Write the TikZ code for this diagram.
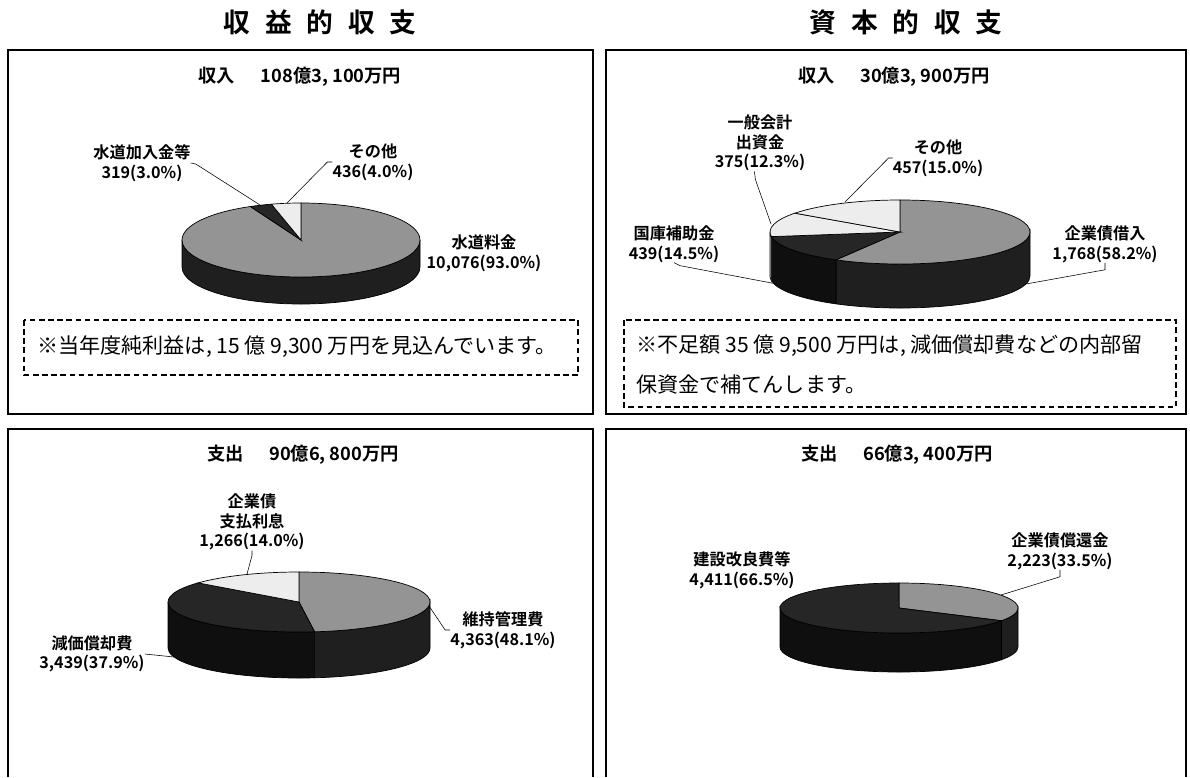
\documentclass[tikz,border=0pt]{standalone}
\usepackage{fontspec}
\setmainfont{Noto Sans CJK JP}[BoldFont=* Bold]
\colorlet{topgray}{black!42}
\colorlet{topdark}{black!85}
\colorlet{toplight}{black!7}
\colorlet{sidegray}{black!88}
\colorlet{sidedark}{black!94}
\colorlet{sidelight}{black!30}

\begin{document}
\begin{tikzpicture}[x=0.025cm,y=-0.025cm,
 panel/.style ={draw=black,line width=1pt},
 notebox/.style ={draw=black,line width=1pt,dash pattern=on 4pt off 2.5pt},
 leader/.style ={-,draw=black,line width=0.4pt},
 maintitle/.style ={font=\bfseries\fontsize{19}{21}\selectfont},
 subtitle/.style ={font=\bfseries\fontsize{13}{15}\selectfont},
 lbl/.style ={font=\bfseries\fontsize{11.5}{14}\selectfont,align=center,inner sep=0pt},
 note/.style ={font=\fontsize{15}{18}\selectfont,inner sep=0pt,anchor=west},
 grayslice/.style ={fill=topgray,draw=black,line width=0.5pt},
 darkslice/.style ={fill=topdark,draw=black,line width=0.5pt},
 lightslice/.style ={fill=toplight,draw=black,line width=0.5pt},
 grayside/.style ={fill=sidegray,draw=black,line width=0.5pt},
 darkside/.style ={fill=sidedark,draw=black,line width=0.5pt},
 lightside/.style ={fill=sidelight,draw=black,line width=0.5pt}
 ]
\useasboundingbox (0,0) rectangle (1190,777);
%draw titles
\node[maintitle] (title-l) at (320,22) {収\hspace{0.55em}益\hspace{0.55em}的\hspace{0.55em}収\hspace{0.55em}支};
\node[maintitle] (title-r) at (906,22) {資\hspace{0.55em}本\hspace{0.55em}的\hspace{0.55em}収\hspace{0.55em}支};
%draw panels
\draw[panel] (8,50) rectangle (593,414);
\draw[panel] (606,50) rectangle (1186,414);
\draw[panel] (8,777) -- (8,429) -- (593,429) -- (593,777);
\draw[panel] (606,777) -- (606,429) -- (1186,429) -- (1186,777);

%%%% revenue, income (top left)
\node[subtitle] (sub-tl) at (300,77) {収入\hspace{1.4em}108億3, 100万円};
\foreach \a/\b/\s in {0/180/grayside}
 \filldraw[\s] (301,240) ++(\a:119 and 37) arc[start angle=\a,end angle=\b,x radius=119,y radius=37]
  -- ++(0,27) arc[start angle=\b,end angle=\a,x radius=119,y radius=37] -- cycle;
\foreach \a/\b/\s in {-90/244.8/grayslice,244.8/255.6/darkslice,255.6/270/lightslice}
 \filldraw[\s] (301,240) -- ++(\a:119 and 37) arc[start angle=\a,end angle=\b,x radius=119,y radius=37] -- cycle;
\coordinate (p-kanyu) at (260,205);
\coordinate (p-sonota1) at (287,203);
\node[lbl] (kanyu) at (142,163) {水道加入金等\\319(3.0\%)};
\node[lbl] (sonota1) at (373,162) {その他\\436(4.0\%)};
\node[lbl] (ryokin) at (484,253) {水道料金\\10,076(93.0\%)};
\draw[leader] (kanyu.east) -- ++(5,1) -- (p-kanyu);
\draw[leader] (sonota1.west) -- ++(-5,0) -- (p-sonota1);
%note
\draw[notebox] (24,320) rectangle (578,375);
\node[note] (note-tl) at (37,347) {※当年度純利益は, 15 億 9,300 万円を見込んでいます。};

%%%% capital, income (top right)
\node[subtitle] (sub-tr) at (894,77) {収入\hspace{1.4em}30億3, 900万円};
\foreach \a/\b/\s in {0/119.52/grayside,119.52/171.72/darkside,171.72/180/lightside}
 \filldraw[\s] (900,232) ++(\a:130 and 32) arc[start angle=\a,end angle=\b,x radius=130,y radius=32]
  -- ++(0,44) arc[start angle=\b,end angle=\a,x radius=130,y radius=32] -- cycle;
\foreach \a/\b/\s in {-90/119.52/grayslice,119.52/171.72/darkslice,171.72/216/lightslice,216/270/lightslice}
 \filldraw[\s] (900,232) -- ++(\a:130 and 32) arc[start angle=\a,end angle=\b,x radius=130,y radius=32] -- cycle;
\coordinate (p-ippan) at (771,224);
\coordinate (p-sonota2) at (845,202);
\coordinate (p-kokko) at (777,284);
\coordinate (p-kariire) at (1026,284);
\node[lbl] (ippan) at (760,143) {一般会計\\出資金\\375(12.3\%)};
\node[lbl] (sonota2) at (938,158) {その他\\457(15.0\%)};
\node[lbl] (kokko) at (674,244) {国庫補助金\\439(14.5\%)};
\node[lbl] (kariire) at (1105,244) {企業債借入\\1,768(58.2\%)};
\draw[leader] ([xshift=-4]ippan.south) -- ++(1,8) -- (p-ippan);
\draw[leader] (sonota2.west) -- ++(-4,0) -- (p-sonota2);
\draw[leader] (kokko.south) -- ++(6,3) -- (p-kokko);
\draw[leader] (kariire.south) -- ++(0,7) -- (p-kariire);
%note
\draw[notebox] (624,320) rectangle (1176,407);
\node[note] (note-tr1) at (636,346) {※不足額 35 億 9,500 万円は, 減価償却費などの内部留};
\node[note] (note-tr2) at (636,384) {保資金で補てんします。};

%%%% revenue, expense (bottom left)
\node[subtitle] (sub-bl) at (303,455) {支出\hspace{1.4em}90億6, 800万円};
\foreach \a/\b/\s in {0/83.16/grayside,83.16/180/darkside}
 \filldraw[\s] (299,602) ++(\a:131 and 30) arc[start angle=\a,end angle=\b,x radius=131,y radius=30]
  -- ++(0,46) arc[start angle=\b,end angle=\a,x radius=131,y radius=30] -- cycle;
\foreach \a/\b/\s in {-90/83.16/grayslice,83.16/219.6/darkslice,219.6/270/lightslice}
 \filldraw[\s] (299,602) -- ++(\a:131 and 30) arc[start angle=\a,end angle=\b,x radius=131,y radius=30] -- cycle;
\coordinate (p-rishi) at (247,574);
\coordinate (p-iji) at (429,606);
\coordinate (p-genka) at (174,657);
\node[lbl] (rishi) at (252,522) {企業債\\支払利息\\1,266(14.0\%)};
\node[lbl] (iji) at (503,630) {維持管理費\\4,363(48.1\%)};
\node[lbl] (genka) at (92,654) {減価償却費\\3,439(37.9\%)};
\draw[leader] (rishi.south) -- ++(0,5) -- (p-rishi);
\draw[leader] (iji.west) -- ++(-5,0) -- (p-iji);
\draw[leader] (genka.east) -- (p-genka);

%%%% capital, expense (bottom right)
\node[subtitle] (sub-br) at (897,455) {支出\hspace{1.4em}66億3, 400万円};
\foreach \a/\b/\s in {0/30.6/grayside,30.6/180/darkside}
 \filldraw[\s] (899,608) ++(\a:119 and 25) arc[start angle=\a,end angle=\b,x radius=119,y radius=25]
  -- ++(0,39) arc[start angle=\b,end angle=\a,x radius=119,y radius=25] -- cycle;
\foreach \a/\b/\s in {-90/30.6/grayslice,30.6/270/darkslice}
 \filldraw[\s] (899,608) -- ++(\a:119 and 25) arc[start angle=\a,end angle=\b,x radius=119,y radius=25] -- cycle;
\coordinate (p-shokan) at (1001,595);
\node[lbl] (kensetsu) at (742,570) {建設改良費等\\4,411(66.5\%)};
\node[lbl] (shokan) at (1060,551) {企業債償還金\\2,223(33.5\%)};
\draw[leader] (shokan.south) -- ++(0,7) -- (p-shokan);
\end{tikzpicture}
\end{document}
